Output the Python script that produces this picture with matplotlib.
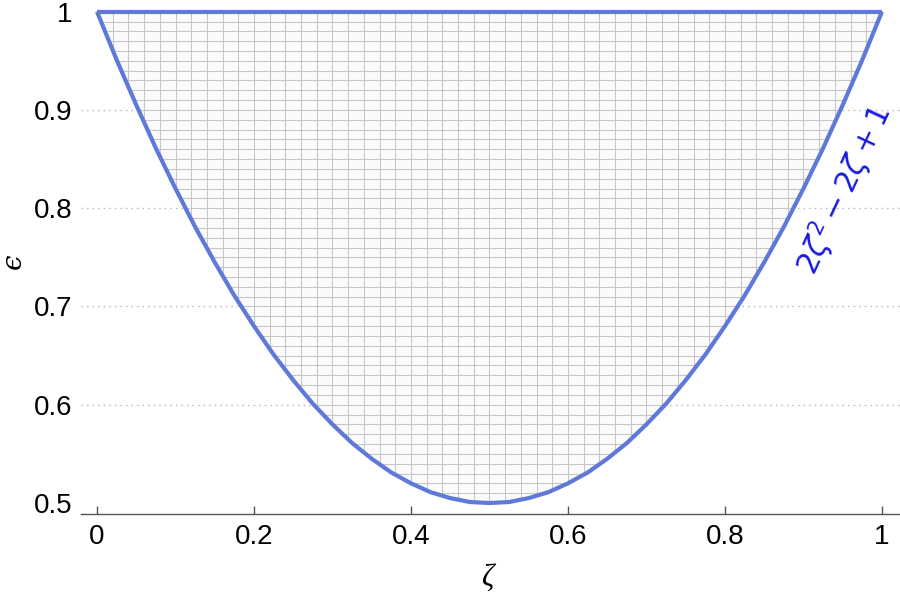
import numpy as np
import matplotlib.pyplot as plt
from matplotlib.patches import Polygon

plt.rcParams['font.family'] = ['Liberation Sans', 'DejaVu Sans']
plt.rcParams['mathtext.fontset'] = 'dejavusans'

# 곡선 위의 점
zeta = [0, 0.025, 0.05, 0.075, 0.1, 0.125, 0.15, 0.175, 0.2, 0.225, 0.25,
        0.275, 0.3, 0.325, 0.35, 0.375, 0.4, 0.425, 0.45, 0.475, 0.5,
        0.525, 0.55, 0.575, 0.6, 0.625, 0.65, 0.675, 0.7, 0.725, 0.75,
        0.775, 0.8, 0.825, 0.85, 0.875, 0.9, 0.925, 0.95, 0.975, 1]
eps = [1, 0.951, 0.905, 0.861, 0.82, 0.781, 0.745, 0.711, 0.68, 0.651, 0.625,
       0.601, 0.58, 0.561, 0.545, 0.531, 0.52, 0.511, 0.505, 0.501, 0.5,
       0.501, 0.505, 0.511, 0.52, 0.531, 0.545, 0.561, 0.58, 0.601, 0.625,
       0.651, 0.68, 0.711, 0.745, 0.781, 0.82, 0.861, 0.905, 0.951, 1]
eps_top = 1.0

xticks = [0, 0.2, 0.4, 0.6, 0.8, 1]
xtick_labels = ['0', '0.2', '0.4', '0.6', '0.8', '1']
yticks = [0.5, 0.6, 0.7, 0.8, 0.9, 1]
ytick_labels = ['0.5', '0.6', '0.7', '0.8', '0.9', '1']
grid_y = [0.6, 0.7, 0.8, 0.9]

blue = '#5f78d9'

fig = plt.figure(figsize=(9, 5.93), dpi=100)
ax = fig.add_axes([0.09, 0.1332, 0.91, 0.8668])
ax.set_xlim(-0.0204, 1.023)
ax.set_ylim(0.4888, 1.0119)

# 점선 격자
for g in grid_y:
    ax.axhline(g, color='#b4b4b4', lw=1.0, ls=(0, (1, 3)), zorder=1)

# 영역 채우기 + 메쉬
region = Polygon(list(zip(zeta, eps)), closed=True, facecolor='#fbfbfb',
                 edgecolor='none', zorder=1.5)
ax.add_patch(region)
mx = np.arange(0.02, 1.0, 0.02)
my = np.arange(0.51, 1.0, 0.01)
vl = ax.vlines(mx, 0.49, 1.0, colors='#c6c6c6', lw=0.8, zorder=2)
hl = ax.hlines(my, 0, 1, colors='#c6c6c6', lw=0.8, zorder=2)
vl.set_clip_path(region)
hl.set_clip_path(region)

# 경계선
ax.plot(zeta, eps, color=blue, lw=3, solid_capstyle='butt', zorder=3)
ax.plot([zeta[0], zeta[-1]], [eps_top, eps_top], color=blue, lw=3,
        solid_capstyle='butt', zorder=3)

ax.text(0.952, 0.8185, r'$2\zeta^2-2\zeta+1$', color='#1a1add', fontsize=22,
        rotation=65, ha='center', va='center', rotation_mode='anchor')

for s in ['left', 'right', 'top']:
    ax.spines[s].set_visible(False)
ax.spines['bottom'].set_color('#555555')
ax.spines['bottom'].set_linewidth(1.0)

ax.set_xticks(xticks)
ax.set_xticklabels(xtick_labels)
ax.set_yticks(yticks)
ax.set_yticklabels(ytick_labels)
ax.tick_params(axis='x', direction='in', length=6, width=1, color='#555555',
               labelsize=20, pad=7)
ax.tick_params(axis='y', length=0, labelsize=20, pad=6)

fig.text(487 / 900, 1 - 578 / 593, 'ζ', fontsize=22, fontstyle='italic',
         family='Liberation Serif', ha='center', va='center')
fig.text(13 / 900, 1 - 261 / 593, 'ϵ', fontsize=20, fontstyle='italic',
         family='DejaVu Serif', rotation=90, ha='center', va='center')

fig.savefig('out.png', dpi=100)
